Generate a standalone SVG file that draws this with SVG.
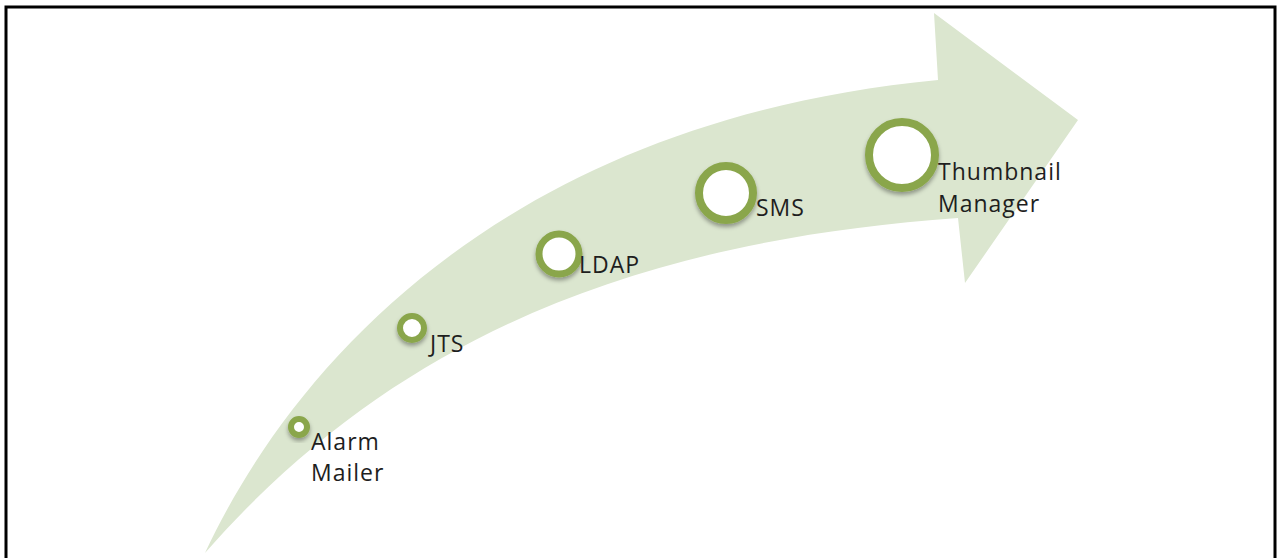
<svg xmlns="http://www.w3.org/2000/svg" width="1279" height="558" viewBox="0 0 1279 558">
<defs>
<style>
.ring{fill:#ffffff;stroke:#8aa64c;filter:url(#sh)}
.lbl{font-family:"Open Sans","Liberation Sans",sans-serif;font-size:23px;letter-spacing:1px;fill:#1e1e1e}
</style>
<filter id="sh" x="-50%" y="-50%" width="200%" height="200%">
<feDropShadow dx="0" dy="3" stdDeviation="2" flood-color="#000" flood-opacity="0.35"/>
</filter>
</defs>
<rect width="1279" height="558" fill="#ffffff"/>
<rect x="6" y="7" width="1269" height="570" fill="none" stroke="#000" stroke-width="3"/>
<g id="arrow">
<path d="M205,553 C300,350 520,120 938,80 L934,13 L1078,120 L965,283 L958,218 C650,240 400,330 205,553 Z" fill="#dbe6cf"/>
</g>
<g id="connectors"></g>
<g id="n1"><circle class="ring" cx="299" cy="427" r="8" stroke-width="6"/><text class="lbl" x="311" y="450">Alarm</text><text class="lbl" x="311" y="481">Mailer</text></g>
<g id="n2"><circle class="ring" cx="412" cy="328" r="12" stroke-width="6"/><text class="lbl" x="430" y="352">JTS</text></g>
<g id="n3"><circle class="ring" cx="559" cy="254" r="20" stroke-width="7"/><text class="lbl" x="579" y="273">LDAP</text></g>
<g id="n4"><circle class="ring" cx="726" cy="193" r="27" stroke-width="8"/><text class="lbl" x="756" y="216">SMS</text></g>
<g id="n5"><circle class="ring" cx="902" cy="155" r="33" stroke-width="8"/><text class="lbl" x="938" y="180">Thumbnail</text><text class="lbl" x="938" y="212">Manager</text></g>
</svg>
